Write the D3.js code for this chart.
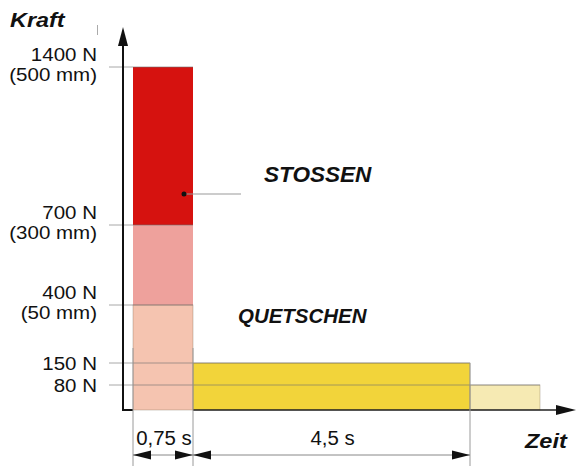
<!DOCTYPE html>
<html><head><meta charset="utf-8">
<script src="https://cdn.jsdelivr.net/npm/d3@7"></script>
<style>body{margin:0;background:#fff}svg{display:block}</style>
</head><body>
<script>
// ---- data ----
const forceLevels = [0, 80, 150, 400, 700, 1400];          // N (diagram levels)
const timeLevels  = [0, 0.75, 5.25, 6.5];                   // s (diagram breakpoints)
const tickValues  = [1400, 700, 400, 150, 80];
const tickLabels  = [["1400 N","(500 mm)"],["700 N","(300 mm)"],["400 N","(50 mm)"],["150 N"],["80 N"]];
const tickLineEnd = [0.75, 0.75, 0.75, 5.25, 6.5];          // time where each level line ends
const bars = [
  {t0:0,    t1:0.75, f0:700, f1:1400, c:"#d6120f"},
  {t0:0,    t1:0.75, f0:400, f1:700,  c:"#eea19c"},
  {t0:0,    t1:0.75, f0:0,   f1:400,  c:"#f5c4b0"},
  {t0:0.75, t1:5.25, f0:0,   f1:150,  c:"#f2d43a"},
  {t0:5.25, t1:6.5,  f0:0,   f1:80,   c:"#f6eab3"}
];
const durations = [{t0:0, t1:0.75, label:"0,75 s"}, {t0:0.75, t1:5.25, label:"4,5 s"}];
const titleY = "Kraft", titleX = "Zeit";

// ---- scales (piecewise, non-proportional schematic) ----
const W = 576, H = 466;
const y = d3.scaleLinear().domain(forceLevels).range([410, 385, 363, 305, 225, 67]);
const x = d3.scaleLinear().domain(timeLevels).range([133, 193, 470, 540]);
const axisX = 123, axisY = 410;

const svg = d3.select("body").append("svg").attr("width", W).attr("height", H);
const FONT = "'Liberation Sans', Arial, Helvetica, sans-serif";

function txt(g, s, px, py, opt) {
  return g.append("text")
    .attr("transform", `translate(${px},${py}) scale(${opt.sx || 1},1)`)
    .attr("text-anchor", opt.anchor || "start")
    .style("font-family", FONT)
    .style("font-size", opt.size + "px")
    .style("font-weight", opt.bold ? "bold" : "normal")
    .style("font-style", opt.italic ? "italic" : "normal")
    .attr("fill", "#111")
    .text(s);
}

// bars
svg.append("g").selectAll("rect").data(bars).join("rect")
  .attr("x", d => x(d.t0)).attr("width", d => x(d.t1) - x(d.t0))
  .attr("y", d => y(d.f1)).attr("height", d => y(d.f0) - y(d.f1))
  .attr("fill", d => d.c);
// thin bar edges
svg.append("g").selectAll("rect").data(bars.slice(2)).join("rect")
  .attr("x", d => x(d.t0)).attr("width", d => x(d.t1) - x(d.t0))
  .attr("y", d => y(d.f1)).attr("height", d => y(d.f0) - y(d.f1))
  .attr("fill", "none").attr("stroke", "rgba(120,100,80,0.4)").attr("stroke-width", 0.8);

// level lines
svg.append("g").selectAll("line").data(tickValues).join("line")
  .attr("x1", 109).attr("x2", (d, i) => x(tickLineEnd[i]))
  .attr("y1", d => y(d)).attr("y2", d => y(d))
  .attr("stroke", "rgba(110,110,110,0.6)").attr("stroke-width", 1);

// tick labels
const lg = svg.append("g");
tickLabels.forEach((lines, i) => {
  const ty = y(tickValues[i]);
  if (lines.length === 2) {
    txt(lg, lines[0], 97, ty - 6, {size: 19, sx: 1.08, anchor: "end"});
    txt(lg, lines[1], 97, ty + 14, {size: 19, sx: 1.08, anchor: "end"});
  } else {
    txt(lg, lines[0], 97, ty + 6.5, {size: 19, sx: 1.08, anchor: "end"});
  }
});

// axes
const ax = svg.append("g");
ax.append("line").attr("x1", axisX).attr("x2", axisX).attr("y1", axisY + 1).attr("y2", 40)
  .attr("stroke", "#111").attr("stroke-width", 2);
ax.append("path").attr("d", `M${axisX},27 L${axisX - 5},46 L${axisX + 5},46 Z`).attr("fill", "#111");
ax.append("line").attr("x1", axisX - 1).attr("x2", x(0)).attr("y1", axisY).attr("y2", axisY)
  .attr("stroke", "#111").attr("stroke-width", 2);
ax.append("line").attr("x1", x(timeLevels[1])).attr("x2", 562).attr("y1", axisY).attr("y2", axisY)
  .attr("stroke", "#222").attr("stroke-width", 1.5);
ax.append("path").attr("d", `M576,${axisY} L556,${axisY - 5} L556,${axisY + 5} Z`).attr("fill", "#111");
ax.append("line").attr("x1", 97.5).attr("x2", 97.5).attr("y1", 25).attr("y2", 35)
  .attr("stroke", "#aaa").attr("stroke-width", 1);

// axis titles
txt(svg, titleY, 10, 27, {size: 20, sx: 1.17, bold: true, italic: true});
txt(svg, titleX, 525, 448, {size: 21, sx: 1.12, bold: true, italic: true});

// zone labels
txt(svg, "STOSSEN", 264, 182, {size: 21.5, sx: 1.05, bold: true, italic: true});
txt(svg, "QUETSCHEN", 238, 323, {size: 19.5, sx: 1.05, bold: true, italic: true});
// leader
svg.append("line").attr("x1", 184).attr("x2", 241).attr("y1", 194).attr("y2", 194)
  .attr("stroke", "#999").attr("stroke-width", 1);
svg.append("circle").attr("cx", 184).attr("cy", 194).attr("r", 2.5).attr("fill", "#111");

// dimension lines
const dg = svg.append("g");
const extT = [0, 0.75, 5.25];
dg.selectAll("line.ext").data(extT).join("line").attr("class", "ext")
  .attr("x1", d => x(d)).attr("x2", d => x(d)).attr("y1", d => d === 5.25 ? y(150) : 348).attr("y2", H)
  .attr("stroke", "#9a9a9a").attr("stroke-width", 1);
const dimY = 455;
dg.append("line").attr("x1", x(0)).attr("x2", x(5.25)).attr("y1", dimY).attr("y2", dimY)
  .attr("stroke", "#888").attr("stroke-width", 1);
durations.forEach(d => {
  const a = x(d.t0), b = x(d.t1);
  dg.append("path").attr("d", `M${a},${dimY} L${a + 18},${dimY - 4.5} L${a + 18},${dimY + 4.5} Z`).attr("fill", "#111");
  dg.append("path").attr("d", `M${b},${dimY} L${b - 18},${dimY - 4.5} L${b - 18},${dimY + 4.5} Z`).attr("fill", "#111");
  txt(dg, d.label, (a + b) / 2 + 1, 445, {size: 20, sx: 1.02, anchor: "middle"});
});
</script>
</body></html>
